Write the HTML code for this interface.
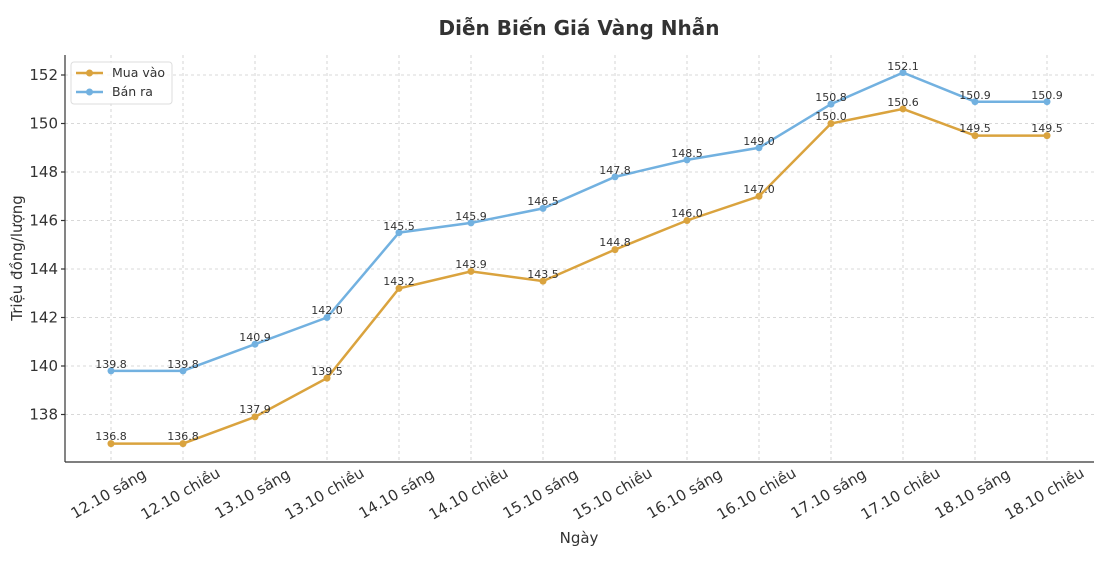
<!DOCTYPE html>
<html><head><meta charset="utf-8"><style>
body{margin:0;background:#fff}
text{font-family:"DejaVu Sans","Liberation Sans",sans-serif;fill:#333}
</style></head><body>
<svg width="1102" height="562" viewBox="0 0 1102 562" xmlns="http://www.w3.org/2000/svg">
<text x="579" y="35" font-size="20" font-weight="bold" text-anchor="middle">Diễn Biến Giá Vàng Nhẫn</text>
<g stroke="#ccc" stroke-dasharray="3,3" stroke-width="0.8">
<line x1="65" x2="1094" y1="75" y2="75"/><line x1="65" x2="1094" y1="123.5" y2="123.5"/><line x1="65" x2="1094" y1="172" y2="172"/><line x1="65" x2="1094" y1="220.5" y2="220.5"/><line x1="65" x2="1094" y1="269" y2="269"/><line x1="65" x2="1094" y1="317.5" y2="317.5"/><line x1="65" x2="1094" y1="366" y2="366"/><line x1="65" x2="1094" y1="414.5" y2="414.5"/>
<line y1="55" y2="462" x1="111" x2="111"/><line y1="55" y2="462" x1="183" x2="183"/><line y1="55" y2="462" x1="255" x2="255"/><line y1="55" y2="462" x1="327" x2="327"/><line y1="55" y2="462" x1="399" x2="399"/><line y1="55" y2="462" x1="471" x2="471"/><line y1="55" y2="462" x1="543" x2="543"/><line y1="55" y2="462" x1="615" x2="615"/><line y1="55" y2="462" x1="687" x2="687"/><line y1="55" y2="462" x1="759" x2="759"/><line y1="55" y2="462" x1="831" x2="831"/><line y1="55" y2="462" x1="903" x2="903"/><line y1="55" y2="462" x1="975" x2="975"/><line y1="55" y2="462" x1="1047" x2="1047"/>
</g>
<g stroke="#333" stroke-width="1.2"><line x1="65" y1="55" x2="65" y2="462"/><line x1="65" y1="462" x2="1094" y2="462"/>
<line x1="61" x2="65" y1="75" y2="75"/><line x1="61" x2="65" y1="123.5" y2="123.5"/><line x1="61" x2="65" y1="172" y2="172"/><line x1="61" x2="65" y1="220.5" y2="220.5"/><line x1="61" x2="65" y1="269" y2="269"/><line x1="61" x2="65" y1="317.5" y2="317.5"/><line x1="61" x2="65" y1="366" y2="366"/><line x1="61" x2="65" y1="414.5" y2="414.5"/>
</g>
<g font-size="15" text-anchor="end"><text x="58" y="80">152</text><text x="58" y="128.5">150</text><text x="58" y="177">148</text><text x="58" y="225.5">146</text><text x="58" y="274">144</text><text x="58" y="322.5">142</text><text x="58" y="371">140</text><text x="58" y="419.5">138</text></g>
<text transform="translate(22,258) rotate(-90)" font-size="15" text-anchor="middle">Triệu đồng/lượng</text>
<text x="579" y="543" font-size="15" text-anchor="middle">Ngày</text>
<g font-size="15" text-anchor="middle">
<text transform="translate(111,498) rotate(-30)">12.10 sáng</text><text transform="translate(183,498) rotate(-30)">12.10 chiều</text><text transform="translate(255,498) rotate(-30)">13.10 sáng</text><text transform="translate(327,498) rotate(-30)">13.10 chiều</text><text transform="translate(399,498) rotate(-30)">14.10 sáng</text><text transform="translate(471,498) rotate(-30)">14.10 chiều</text><text transform="translate(543,498) rotate(-30)">15.10 sáng</text><text transform="translate(615,498) rotate(-30)">15.10 chiều</text><text transform="translate(687,498) rotate(-30)">16.10 sáng</text><text transform="translate(759,498) rotate(-30)">16.10 chiều</text><text transform="translate(831,498) rotate(-30)">17.10 sáng</text><text transform="translate(903,498) rotate(-30)">17.10 chiều</text><text transform="translate(975,498) rotate(-30)">18.10 sáng</text><text transform="translate(1047,498) rotate(-30)">18.10 chiều</text>
</g>
<polyline fill="none" stroke="#DAA33E" stroke-width="2.5" points="111,443.6 183,443.6 255,416.9 327,378.1 399,288.4 471,271.4 543,281.1 615,249.6 687,220.5 759,196.25 831,123.5 903,108.95 975,135.6 1047,135.6"/>
<polyline fill="none" stroke="#72B1E0" stroke-width="2.5" points="111,370.85 183,370.85 255,344.2 327,317.5 399,232.6 471,222.9 543,208.4 615,176.85 687,159.9 759,147.75 831,104.1 903,72.6 975,101.7 1047,101.7"/>
<g fill="#DAA33E"><circle cx="111" cy="443.6" r="3.5"/><circle cx="183" cy="443.6" r="3.5"/><circle cx="255" cy="416.9" r="3.5"/><circle cx="327" cy="378.1" r="3.5"/><circle cx="399" cy="288.4" r="3.5"/><circle cx="471" cy="271.4" r="3.5"/><circle cx="543" cy="281.1" r="3.5"/><circle cx="615" cy="249.6" r="3.5"/><circle cx="687" cy="220.5" r="3.5"/><circle cx="759" cy="196.25" r="3.5"/><circle cx="831" cy="123.5" r="3.5"/><circle cx="903" cy="108.95" r="3.5"/><circle cx="975" cy="135.6" r="3.5"/><circle cx="1047" cy="135.6" r="3.5"/></g>
<g fill="#72B1E0"><circle cx="111" cy="370.85" r="3.5"/><circle cx="183" cy="370.85" r="3.5"/><circle cx="255" cy="344.2" r="3.5"/><circle cx="327" cy="317.5" r="3.5"/><circle cx="399" cy="232.6" r="3.5"/><circle cx="471" cy="222.9" r="3.5"/><circle cx="543" cy="208.4" r="3.5"/><circle cx="615" cy="176.85" r="3.5"/><circle cx="687" cy="159.9" r="3.5"/><circle cx="759" cy="147.75" r="3.5"/><circle cx="831" cy="104.1" r="3.5"/><circle cx="903" cy="72.6" r="3.5"/><circle cx="975" cy="101.7" r="3.5"/><circle cx="1047" cy="101.7" r="3.5"/></g>
<g font-size="11" text-anchor="middle">
<text x="111" y="440">136.8</text><text x="183" y="440">136.8</text><text x="255" y="413">137.9</text><text x="327" y="375">139.5</text><text x="399" y="285">143.2</text><text x="471" y="268">143.9</text><text x="543" y="278">143.5</text><text x="615" y="246">144.8</text><text x="687" y="217">146.0</text><text x="759" y="193">147.0</text><text x="831" y="120">150.0</text><text x="903" y="106">150.6</text><text x="975" y="132">149.5</text><text x="1047" y="132">149.5</text>
<text x="111" y="368">139.8</text><text x="183" y="368">139.8</text><text x="255" y="341">140.9</text><text x="327" y="314">142.0</text><text x="399" y="230">145.5</text><text x="471" y="220">145.9</text><text x="543" y="205">146.5</text><text x="615" y="174">147.8</text><text x="687" y="157">148.5</text><text x="759" y="145">149.0</text><text x="831" y="101">150.8</text><text x="903" y="70">152.1</text><text x="975" y="99">150.9</text><text x="1047" y="99">150.9</text>
</g>
<rect x="71" y="62" width="101" height="42" rx="3" fill="#fff" fill-opacity="0.8" stroke="#ddd"/>
<line x1="76" x2="103" y1="73" y2="73" stroke="#DAA33E" stroke-width="2.5"/><circle cx="89.5" cy="73" r="3.5" fill="#DAA33E"/>
<line x1="76" x2="103" y1="92" y2="92" stroke="#72B1E0" stroke-width="2.5"/><circle cx="89.5" cy="92" r="3.5" fill="#72B1E0"/>
<text x="112" y="77" font-size="12.5">Mua vào</text><text x="112" y="96" font-size="12.5">Bán ra</text>
</svg>
</body></html>
